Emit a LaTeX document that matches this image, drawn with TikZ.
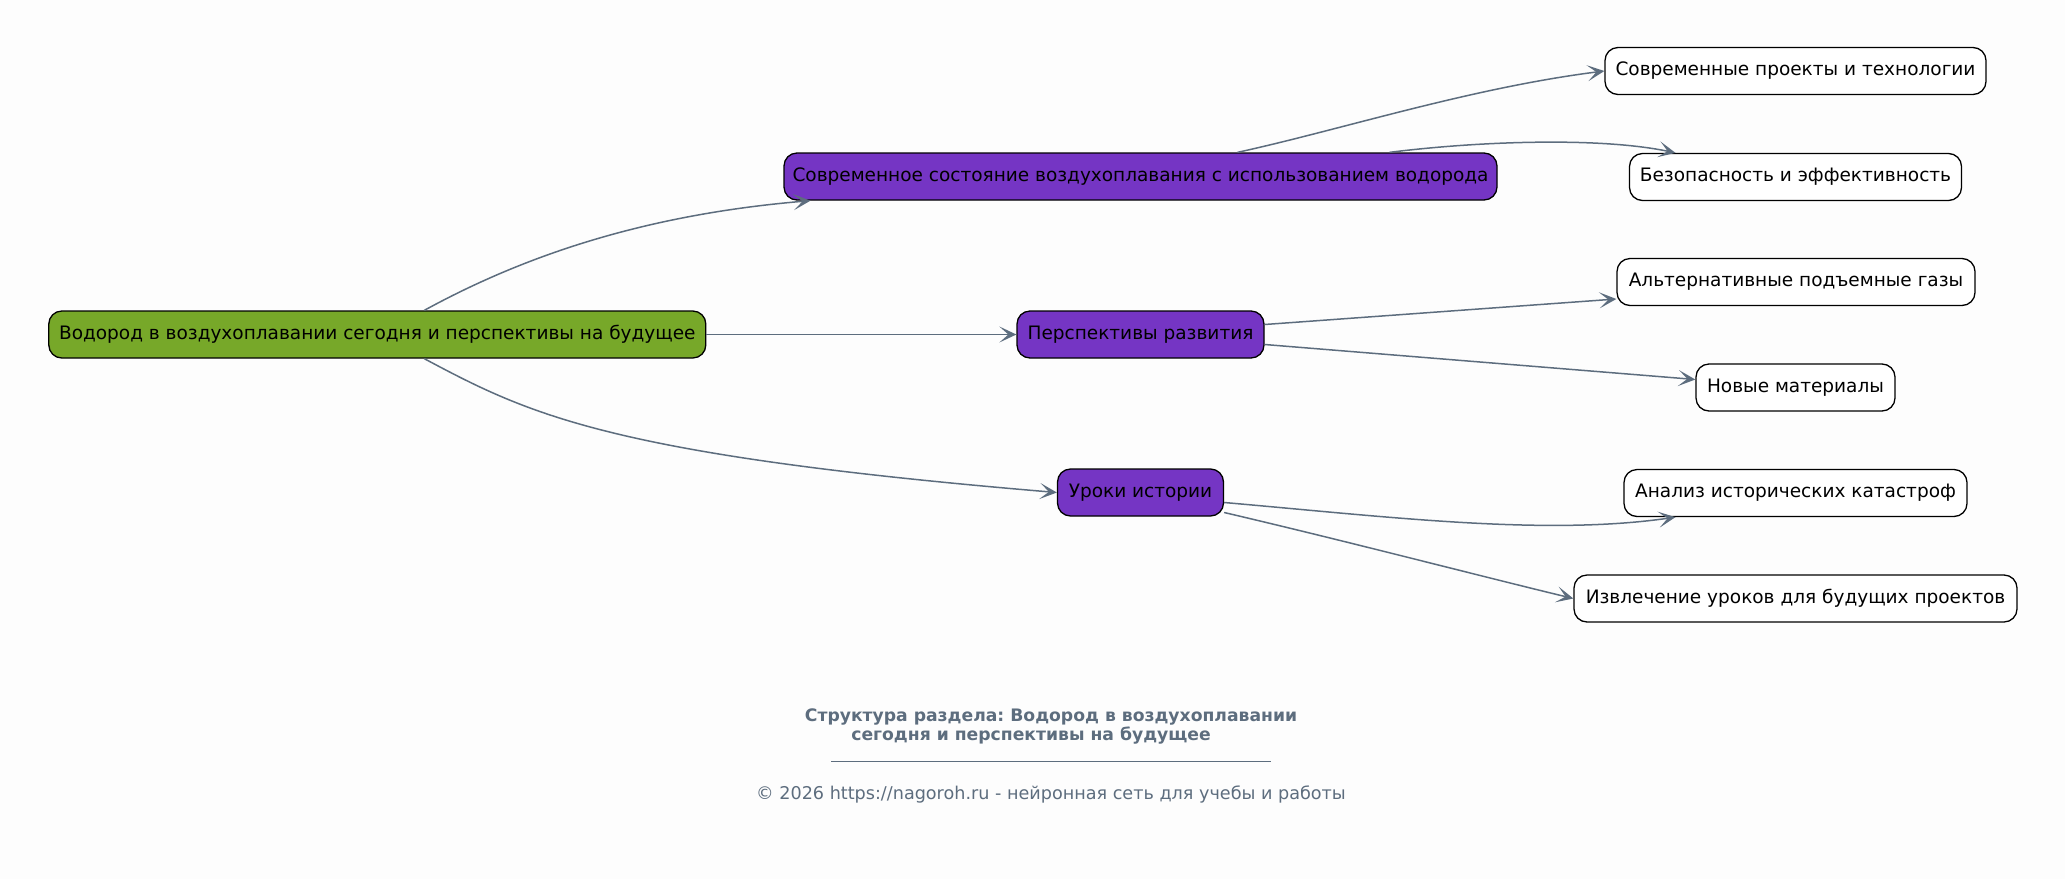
\documentclass[tikz,border=0pt]{standalone}
\usepackage{fontspec}
\setmainfont{DejaVu Sans}
\usetikzlibrary{arrows.meta,calc}
\frenchspacing
\definecolor{edgec}{HTML}{5D6D7E}
\definecolor{rootc}{HTML}{77A829}
\definecolor{midc}{HTML}{7535C4}
\definecolor{bgc}{HTML}{FDFDFD}
\tikzset{
  box/.style={draw=black, line width=1.3pt, rounded corners=13pt, minimum height=47pt, inner xsep=0pt, font=\fontsize{18.5}{22}\selectfont, text=black},
  rootbox/.style={box, fill=rootc},
  midbox/.style={box, fill=midc},
  leafbox/.style={box, fill=white},
  conn/.style={draw=edgec, line width=1.5pt, -{Stealth[length=17pt,width=16pt,inset=9pt]}},
  foot/.style={text=edgec, inner sep=0pt}
}
\begin{document}
\begin{tikzpicture}[x=1pt,y=-1pt]
\fill[bgc] (0,0) rectangle (2065,879);
\useasboundingbox (0,0) rectangle (2065,879);

\node[rootbox, minimum width=657pt] (root) at (377.3,334.5) {Водород в воздухоплавании сегодня и перспективы на будущее};
\node[midbox, minimum width=713pt] (cur) at (1140.5,176.5) {Современное состояние воздухоплавания с использованием водорода};
\node[midbox, minimum width=247pt] (persp) at (1140.5,334.5) {Перспективы развития};
\node[midbox, minimum width=166pt] (less) at (1140.5,492.5) {Уроки истории};

\node[leafbox, minimum width=381pt] (l1) at (1795.5,71) {Современные проекты и технологии};
\node[leafbox, minimum width=332pt] (l2) at (1795.5,177) {Безопасность и эффективность};
\node[leafbox, minimum width=358pt] (l3) at (1796,282) {Альтернативные подъемные газы};
\node[leafbox, minimum width=199pt] (l4) at (1795.5,387.5) {Новые материалы};
\node[leafbox, minimum width=343pt] (l5) at (1795.5,493) {Анализ исторических катастроф};
\node[leafbox, minimum width=443pt] (l6) at (1795.5,598.5) {Извлечение уроков для будущих проектов};

% root edges
\draw[conn] ($(root.north)+(47,0)$) .. controls (520,258) and (640,215) .. ($(cur.south)+(-330,0)$);
\draw[conn] (root.east) -- (persp.west);
\draw[conn] ($(root.south)+(47,0)$) .. controls (530,415) and (610,455) .. (less.west);

% cur edges
\draw[conn] ($(cur.north)+(97,0)$) .. controls (1340,130) and (1470,88) .. (l1.west);
\draw[conn] ($(cur.north)+(249,0)$) .. controls (1480,141) and (1600,137) .. ($(l2.north)+(-120,0)$);

% persp edges
\draw[conn] ($(persp.east)+(0,-10)$) -- ($(l3.west)+(0,17)$);
\draw[conn] ($(persp.east)+(0,10)$) -- ($(l4.west)+(0,-8)$);

% lessons edges
\draw[conn] ($(less.east)+(0,10)$) .. controls (1390,517) and (1545,536) .. ($(l5.south)+(-120,0)$);
\draw[conn] ($(less.east)+(0,20)$) .. controls (1350,542) and (1480,576) .. (l6.west);

% footer
\node[foot, font=\bfseries\fontsize{17.2}{20}\selectfont] (t1) at (1051,717) {Структура раздела: Водород в воздухоплавании};
\node[foot, font=\bfseries\fontsize{17.2}{20}\selectfont] (t2) at (1031,735.5) {сегодня и перспективы на будущее};
\draw[edgec, line width=0.8pt] (831,761) -- (1271,761);
\node[foot, font=\fontsize{17.6}{21}\selectfont] (copy) at (1051,794) {© 2026 https://nagoroh.ru - нейронная сеть для учебы и работы};
\end{tikzpicture}
\end{document}
